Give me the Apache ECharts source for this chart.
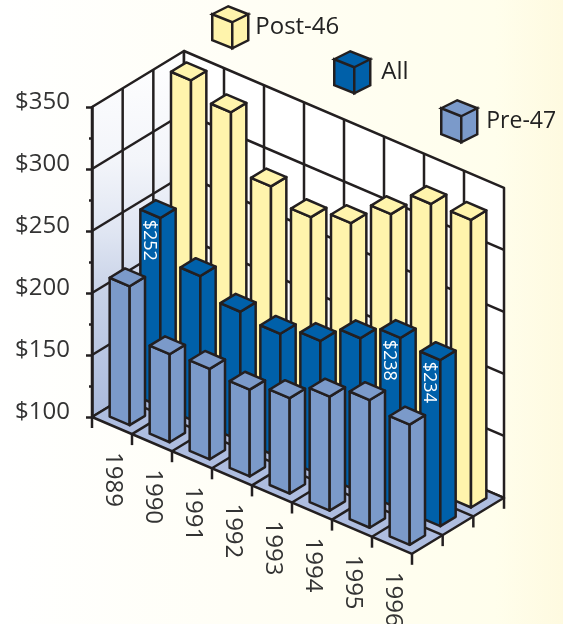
<!DOCTYPE html>
<html><head><meta charset="utf-8">
<style>html,body{margin:0;padding:0;background:#fff}#c{width:563px;height:624px}</style>
<script src="https://cdn.jsdelivr.net/npm/echarts@6/dist/echarts.min.js"></script>
</head><body><div id="c"></div>
<script>
const CATEGORIES = ['1989','1990','1991','1992','1993','1994','1995','1996'];
const POST_46 = [348,336,290,279,288,309,331,332];
const ALL_VALUES = [252,219,204,200,208,224,238,234];
const PRE_47 = [212,171,173,170,177,192,203,197];
const LABELLED_IN_ALL = ['1989','1995','1996'];
const VALUE_TICKS = [100,150,200,250,300,350];

const FONT = '"Open Sans", sans-serif';
const INK = '#231f20';
const LW = 2.5;
// oblique projection, px per category step / per row step / per value unit
const CAT_DX = 40, CAT_DY = 17.1, ROW_DX = 30.67, ROW_DY = -18.67, PX_PER_VALUE = 1.24;

function project(api, a, b, v) {
  return api.coord([a + b * ROW_DX / CAT_DX, v - (a * CAT_DY + b * ROW_DY) / PX_PER_VALUE]);
}
function poly(points, fill) {
  return {type:'polygon', shape:{points}, style:{fill, stroke:INK, lineWidth:LW, lineJoin:'round'}};
}
function seg(p, q) {
  return {type:'line', shape:{x1:p[0],y1:p[1],x2:q[0],y2:q[1]}, style:{stroke:INK, lineWidth:LW, lineCap:'butt'}};
}

function renderFrame(params, api) {
  const P = (a,b,v) => project(api,a,b,v);
  const n = CATEGORIES.length, vMin = VALUE_TICKS[0], vMax = VALUE_TICKS[VALUE_TICKS.length-1];
  const kids = [];
  kids.push(poly([P(0,0,vMin),P(0,3,vMin),P(0,3,vMax),P(0,0,vMax)], {
    type:'linear',x:0,y:0,x2:0,y2:1,
    colorStops:[{offset:0,color:'#ffffff'},{offset:0.3,color:'#f3f5fa'},{offset:0.5,color:'#dfe5f2'},{offset:0.65,color:'#c9d3e8'},{offset:1,color:'#a9b9dc'}]
  }));
  kids.push(poly([P(0,3,vMin),P(n,3,vMin),P(n,3,vMax),P(0,3,vMax)], '#ffffff'));
  kids.push(poly([P(0,0,vMin),P(n,0,vMin),P(n,3,vMin),P(0,3,vMin)], '#aebde0'));
  VALUE_TICKS.slice(1,-1).forEach(v => {
    kids.push(seg(P(0,0,v),P(0,3,v)));
    kids.push(seg(P(0,3,v),P(n,3,v)));
  });
  [1,2].forEach(b => {
    kids.push(seg(P(0,b,vMin),P(0,b,vMax)));
    kids.push(seg(P(0,b,vMin),P(n,b,vMin)));
  });
  for (let a = 1; a < n; a++) {
    kids.push(seg(P(a,3,vMin),P(a,3,vMax)));
    kids.push(seg(P(a,0,vMin),P(a,3,vMin)));
  }
  // outward ticks below the floor edges
  for (let a = 0; a <= n; a++) { const p = P(a,0,vMin); kids.push(seg(p,[p[0],p[1]+11])); }
  [1,2,3].forEach(b => { const p = P(n,b,vMin); kids.push(seg(p,[p[0],p[1]+11])); });
  // year labels
  CATEGORIES.forEach((c,i) => {
    const p = P(i+0.5,0,vMin);
    kids.push({type:'text', x:p[0]+1, y:p[1]+54, rotation:-Math.PI/2,
      style:{text:c, fill:'#333', font:'24px '+FONT, align:'center', verticalAlign:'middle'}});
  });
  return {type:'group', children:kids};
}

function barRenderer(row, labelled) {
  return function(params, api) {
    const i = api.value(0), v = api.value(1), base = VALUE_TICKS[0];
    const a0=i+0.25,a1=i+0.75,b0=row+0.25,b1=row+0.75;
    const P=(a,b,z)=>project(api,a,b,z), color=api.visual('color');
    const kids=[
      poly([P(a0,b0,base),P(a1,b0,base),P(a1,b0,v),P(a0,b0,v)],color),
      poly([P(a1,b0,base),P(a1,b1,base),P(a1,b1,v),P(a1,b0,v)],color),
      poly([P(a0,b0,v),P(a1,b0,v),P(a1,b1,v),P(a0,b1,v)],color)
    ];
    if (labelled && labelled.includes(CATEGORIES[i])) {
      const t=P(i+0.5,b0,v);
      kids.push({type:'text',x:t[0]-1,y:t[1]+6,rotation:-Math.PI/2,
        style:{text:'$'+v,fill:'#ffffff',font:'18px '+FONT,align:'left',verticalAlign:'middle'}});
    }
    return {type:'group',children:kids};
  };
}
function barSeries(name, values, color, row, labelled) {
  return {type:'custom', name, coordinateSystem:'cartesian2d', clip:false, silent:true,
    itemStyle:{color}, encode:{x:0,y:1},
    data:values.map((v,i)=>[i,v]), renderItem:barRenderer(row,labelled)};
}
const CUBE='path://M0 9 L16 1 L36 9 L20 17 Z M0 9 L20 17 L20 43 L0 35 Z M20 17 L36 9 L36 35 L20 43 Z';
function legendAt(name,left,top,pad,size){
  return {data:[{name,icon:CUBE}],left,top,padding:0,itemWidth:36,itemHeight:42,selectedMode:false,
    itemStyle:{borderColor:INK,borderWidth:LW},
    textStyle:{fontFamily:FONT,fontSize:size,color:'#222',padding:pad}};
}

const chart=echarts.init(document.getElementById('c'),null,{renderer:'canvas'});
chart.setOption({
  animation:false,
  backgroundColor:{type:'linear',x:0,y:0,x2:1,y2:0,colorStops:[
    {offset:0,color:'#ffffff'},{offset:0.4,color:'#fffef6'},{offset:0.88,color:'#fffeec'},{offset:1,color:'#fefae0'}]},
  grid:{left:92,top:107,width:320,height:310,containLabel:false},
  xAxis:{type:'value',min:0,max:8,show:false},
  yAxis:{type:'value',min:100,max:350,interval:50,z:5,
    axisLine:{show:true,lineStyle:{color:INK,width:LW}},
    axisTick:{show:true,length:6,lineStyle:{color:INK,width:LW}},
    minorTick:{show:true,splitNumber:2,length:3,lineStyle:{color:INK,width:LW}},
    splitLine:{show:false},
    axisLabel:{margin:22,color:'#333',fontFamily:FONT,fontSize:24,verticalAlign:'bottom',lineHeight:9,formatter:v=>'$'+v}},
  legend:[legendAt('Post-46',211,5,[0,0,0,2],24),legendAt('All',333,50,[0,0,16,6],24),legendAt('Pre-47',440,99,[0,0,4,4],23)],
  series:[
    {type:'custom',name:'frame',coordinateSystem:'cartesian2d',clip:false,silent:true,data:[[0,100]],encode:{x:0,y:1},renderItem:renderFrame},
    barSeries('Post-46',POST_46,'#fff4ac',2),
    barSeries('All',ALL_VALUES,'#0060a9',1,LABELLED_IN_ALL),
    barSeries('Pre-47',PRE_47,'#7b9aca',0)
  ]
});
</script></body></html>
